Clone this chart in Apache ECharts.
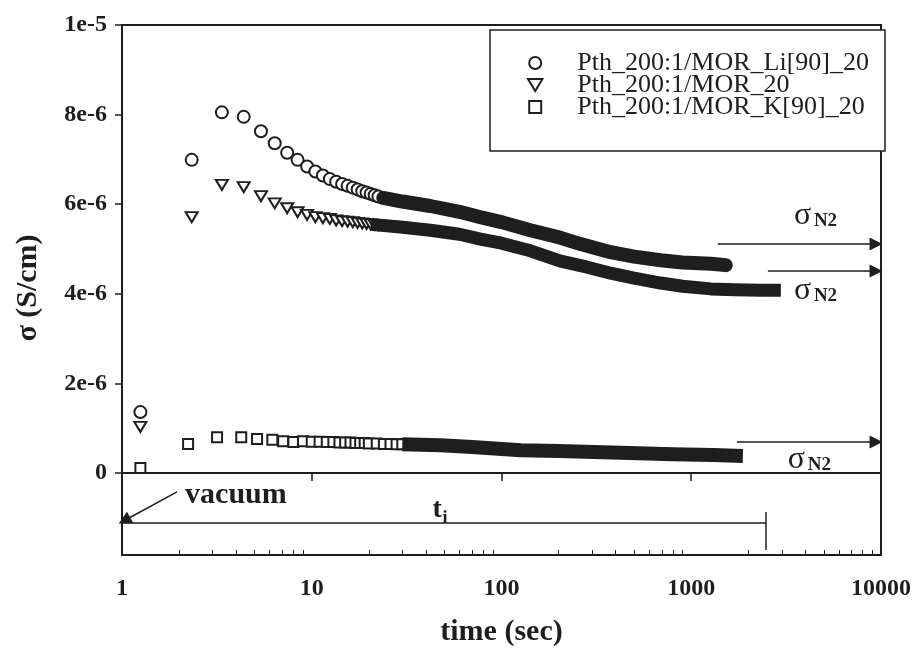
<!DOCTYPE html>
<html>
<head>
<meta charset="utf-8">
<title>Conductivity vs time</title>
<script src="https://cdn.jsdelivr.net/npm/echarts@6/dist/echarts.min.js"></script>
<style>
  html, body { margin: 0; padding: 0; background: #fff; }
  #chart { width: 914px; height: 658px; }
</style>
</head>
<body>
<div id="chart"></div>
<script>
// sigma values below are in units of 1e-6 S/cm, time in seconds

const seriesNames = ['Pth_200:1/MOR_Li[90]_20', 'Pth_200:1/MOR_20', 'Pth_200:1/MOR_K[90]_20'];

// resolved markers (circles and triangles share sampling times)
const timeEarly = [1.25, 2.33, 3.36, 4.38, 5.4, 6.38, 7.42, 8.42, 9.45, 10.45, 11.45, 12.45, 13.45, 14.45, 15.45, 16.45, 17.45, 18.45, 19.45, 20.45, 21.45, 22.45];
const liEarly = [1.36, 6.99, 8.05, 7.95, 7.63, 7.36, 7.15, 6.99, 6.84, 6.73, 6.64, 6.56, 6.50, 6.45, 6.41, 6.37, 6.33, 6.29, 6.26, 6.23, 6.20, 6.17];
const pureEarly = [1.03, 5.71, 6.43, 6.38, 6.18, 6.02, 5.91, 5.82, 5.76, 5.71, 5.69, 5.67, 5.64, 5.62, 5.61, 5.60, 5.58, 5.57, 5.56, 5.55, 5.54, 5.53];
const kTimeEarly = [1.25, 2.23, 3.17, 4.25, 5.15, 6.2, 7.07, 8.0, 9.0, 10, 11, 12, 13, 14, 15, 16, 17, 18, 19, 20, 22, 24, 26, 28, 30];
const kEarly = [0.11, 0.65, 0.80, 0.80, 0.76, 0.74, 0.71, 0.69, 0.71, 0.70, 0.70, 0.69, 0.69, 0.68, 0.68, 0.68, 0.67, 0.67, 0.67, 0.66, 0.66, 0.65, 0.65, 0.64, 0.64];

// dense part, where the markers merge into a solid band
const liBandTime = [23.8, 30, 42.2, 60, 77.5, 100, 142, 205, 261, 376, 500, 690, 900, 1268, 1521];
const liBand = [6.14, 6.06, 5.96, 5.83, 5.71, 5.60, 5.42, 5.25, 5.11, 4.93, 4.83, 4.75, 4.70, 4.67, 4.64];
const pureBandTime = [20.45, 29.3, 42.2, 60, 77.5, 100, 142, 205, 280, 376, 500, 690, 900, 1268, 1700, 2327, 2966];
const pureBand = [5.55, 5.49, 5.42, 5.33, 5.22, 5.13, 4.96, 4.73, 4.60, 4.46, 4.35, 4.24, 4.17, 4.11, 4.09, 4.08, 4.08];
const kBandTime = [30, 47.7, 70, 126, 200, 425, 800, 1300, 1871];
const kBand = [0.64, 0.62, 0.58, 0.51, 0.49, 0.45, 0.42, 0.40, 0.38];

// axis ticks
const yTicks = [0, 2, 4, 6, 8, 10];
const xMinorTicks = [2, 3, 4, 5, 6, 7, 8, 9, 20, 30, 40, 50, 60, 70, 80, 90,
  200, 300, 400, 500, 600, 700, 800, 900, 2000, 3000, 4000, 5000, 6000, 7000, 8000, 9000];

// annotations (data space)
const n2ArrowStart = [1380, 2535, 1738];
const n2ArrowLevel = [5.11, 4.51, 0.69];
const n2LabelTime = [3475, 3475, 3229];
const n2LabelLevel = [5.75, 4.08, 0.3];
const vacuumLevel = -1.12;
const tiEnd = 2473;

const FONT = 'Liberation Serif';
const INK = '#1e1e1e';

const pairs = (ts, vs) => ts.map((t, i) => [t, vs[i]]);

const chart = echarts.init(document.getElementById('chart'), null, { renderer: 'canvas' });

const markerStyle = { color: '#fff', borderColor: INK, borderWidth: 2, opacity: 1 };
const triangle = 'path://M0,0L12,0L6,10Z';
const square = 'path://M0,0L10,0L10,10L0,10Z';

const option = {
  animation: false,
  backgroundColor: '#fff',
  grid: { left: 122, right: 33, top: 25, bottom: 103, show: true, borderColor: INK, borderWidth: 2 },
  legend: {
    data: seriesNames,
    orient: 'vertical',
    left: 490, top: 30,
    padding: [20, 16, 31, 37],
    itemWidth: 74, itemHeight: 12, itemGap: -4,
    backgroundColor: '#fff',
    borderColor: INK, borderWidth: 1.5,
    textStyle: { fontFamily: FONT, fontSize: 26, lineHeight: 23, color: INK },
    selectedMode: false
  },
  xAxis: [
    {
      type: 'log', logBase: 10, min: 1, max: 10000,
      name: 'time (sec)', nameLocation: 'middle', nameGap: 62,
      nameTextStyle: { fontFamily: FONT, fontWeight: 'bold', fontSize: 30, color: INK },
      axisLine: { lineStyle: { color: INK, width: 2 } },
      axisTick: { show: true, length: 8, lineStyle: { color: INK, width: 1.5 } },
      axisLabel: { formatter: v => String(v), fontFamily: FONT, fontWeight: 'bold', fontSize: 24, color: INK, margin: 22 },
      splitLine: { show: false }, minorTick: { show: false }
    },
    {
      type: 'log', logBase: 10, min: 1, max: 10000, position: 'bottom',
      axisLine: { show: false },
      axisTick: { show: true, inside: true, length: 5, customValues: xMinorTicks, lineStyle: { color: INK, width: 1 } },
      axisLabel: { show: false },
      splitLine: { show: false }
    }
  ],
  yAxis: {
    type: 'value', min: -1.83, max: 10,
    axisLine: { show: true, lineStyle: { color: INK, width: 2 } },
    axisTick: { show: true, length: 7, customValues: yTicks, lineStyle: { color: INK, width: 1.5 } },
    axisLabel: {
      customValues: yTicks,
      formatter: v => (v === 0 ? '0' : v === 10 ? '1e-5' : v + 'e-6'),
      fontFamily: FONT, fontWeight: 'bold', fontSize: 24, color: INK, margin: 15
    },
    splitLine: { show: false }
  },
  series: [
    {
      name: seriesNames[0], type: 'scatter', symbol: 'circle', symbolSize: 12,
      itemStyle: markerStyle, data: pairs(timeEarly, liEarly), z: 3,
      markLine: {
        silent: true, symbol: ['none', 'triangle'], symbolSize: 13,
        label: { show: false },
        lineStyle: { color: INK, width: 1.5, type: 'solid', opacity: 1 },
        itemStyle: { color: INK },
        data: n2ArrowStart.map((t, i) => [{ coord: [t, n2ArrowLevel[i]] }, { coord: [9418, n2ArrowLevel[i]] }])
          .concat([[{ coord: [1.95, -0.42] }, { coord: [1.03, -1.06] }]])
      }
    },
    {
      name: seriesNames[1], type: 'scatter', symbol: triangle, symbolSize: [12, 10],
      itemStyle: markerStyle, data: pairs(timeEarly, pureEarly), z: 3,
      markLine: {
        silent: true, symbol: ['none', 'none'],
        label: { show: false },
        lineStyle: { color: INK, width: 1.5, type: 'solid', opacity: 1 },
        data: [
          [{ coord: [1, vacuumLevel] }, { coord: [tiEnd, vacuumLevel] }],
          [{ coord: [tiEnd, -0.87] }, { coord: [tiEnd, -1.72] }]
        ]
      }
    },
    {
      name: seriesNames[2], type: 'scatter', symbol: square, symbolSize: 10,
      itemStyle: markerStyle, data: pairs(kTimeEarly, kEarly), z: 3
    },
    {
      name: 'liBand', type: 'line', symbol: 'none', z: 4, silent: true,
      lineStyle: { color: INK, width: 14, cap: 'round', join: 'round', opacity: 1 },
      data: pairs(liBandTime, liBand)
    },
    {
      name: 'pureBand', type: 'line', symbol: 'none', z: 4, silent: true,
      lineStyle: { color: INK, width: 13, cap: 'butt', join: 'round', opacity: 1 },
      data: pairs(pureBandTime, pureBand)
    },
    {
      name: 'kBand', type: 'line', symbol: 'none', z: 4, silent: true,
      lineStyle: { color: INK, width: 14, cap: 'butt', join: 'round', opacity: 1 },
      data: pairs(kBandTime, kBand)
    }
  ]
};

chart.setOption(option);

// text annotations placed from data coordinates
const px = (t, v) => chart.convertToPixel({ xAxisIndex: 0, yAxisIndex: 0 }, [t, v]);
const graphics = [];
n2LabelTime.forEach((t, i) => {
  const p = px(t, n2LabelLevel[i]);
  graphics.push({ type: 'text', x: p[0], y: p[1], style: { text: 'σ', font: '32px "Liberation Serif"', fill: INK, textVerticalAlign: 'middle' } });
  graphics.push({ type: 'text', x: p[0] + 20, y: p[1] + 6, style: { text: 'N2', font: 'bold 19px "Liberation Serif"', fill: INK, textVerticalAlign: 'middle' } });
});
const pv = px(2.15, -0.49);
graphics.push({ type: 'text', x: pv[0], y: pv[1], style: { text: 'vacuum', font: 'bold 30px "Liberation Serif"', fill: INK, textVerticalAlign: 'middle' } });
const pt = px(47.7, -0.87);
graphics.push({ type: 'text', x: pt[0] - 8, y: pt[1] - 2, style: { text: 't', font: 'bold 28px "Liberation Serif"', fill: INK, textVerticalAlign: 'middle' } });
graphics.push({ type: 'text', x: pt[0] + 2, y: pt[1] + 6, style: { text: 'i', font: 'bold 18px "Liberation Serif"', fill: INK, textVerticalAlign: 'middle' } });
graphics.push({
  type: 'text', x: 28, y: 288, rotation: Math.PI / 2,
  style: { text: 'σ (S/cm)', font: 'bold 30px "Liberation Serif"', fill: INK, textAlign: 'center', textVerticalAlign: 'middle' }
});
chart.setOption({ graphic: graphics });
</script>
</body>
</html>
